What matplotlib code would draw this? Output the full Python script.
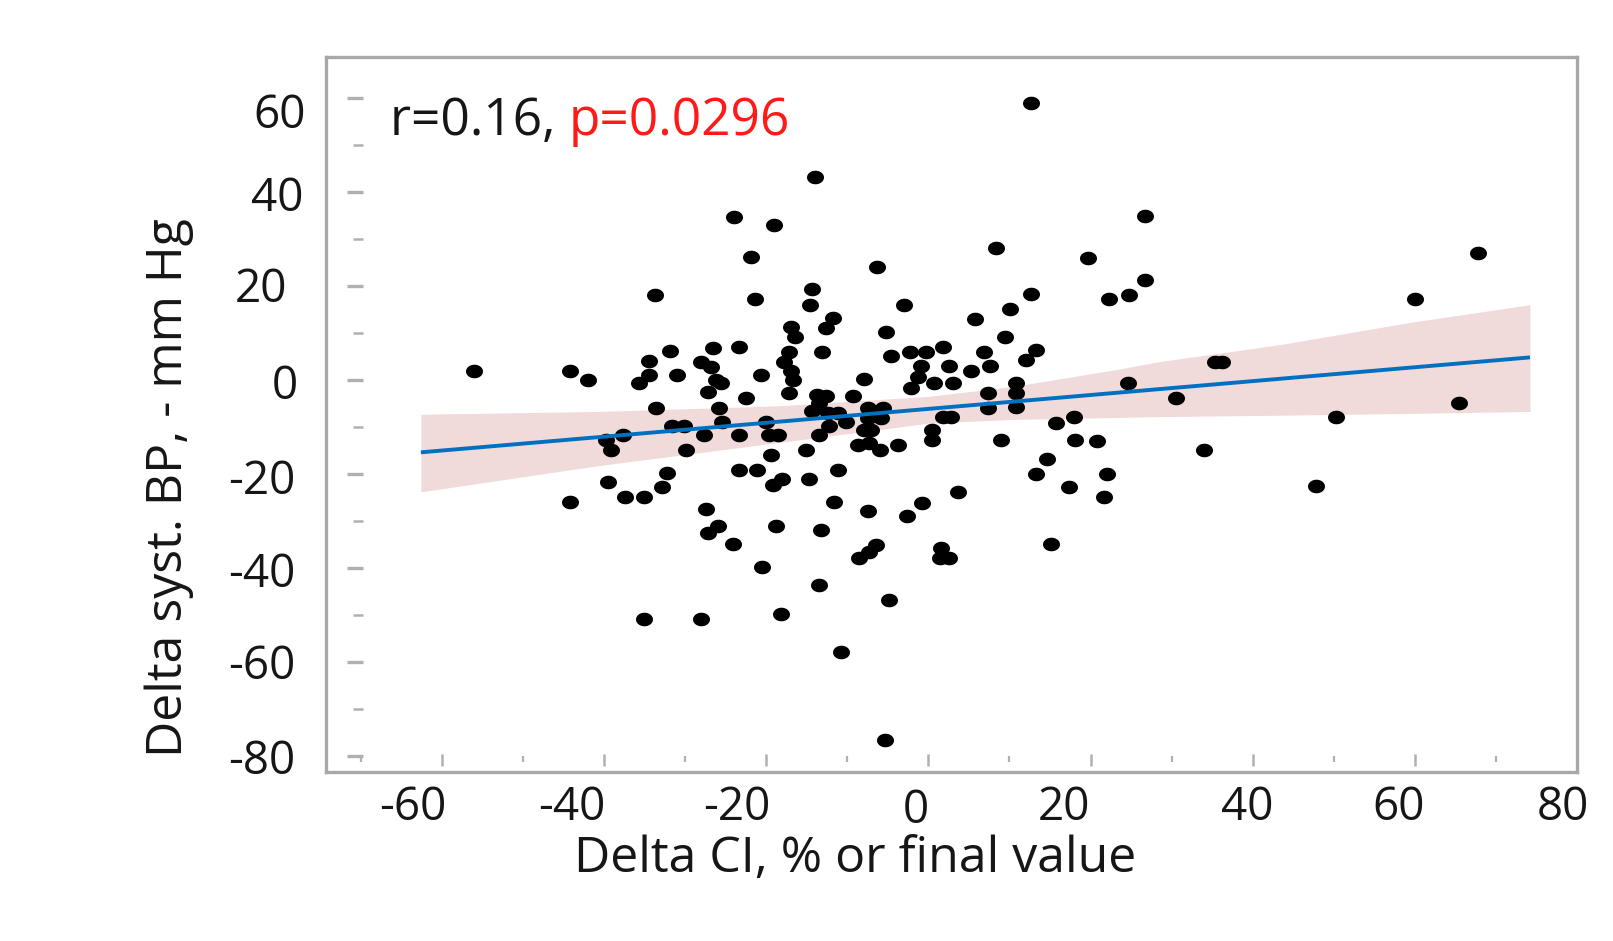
import numpy as np
import matplotlib
matplotlib.use("Agg")
import matplotlib.pyplot as plt
from matplotlib.path import Path
from matplotlib.transforms import offset_copy

plt.rcParams['font.family'] = ['Open Sans', 'DejaVu Sans']

# change in cardiac index vs change in systolic BP, one point per patient
delta_ci = [
    -24.0, -19.0, -21.9, -33.7, -21.4, -56.1, -44.2, -42.0, -34.5, -31.9,
    -26.6, -23.3, -34.5, -35.7, -31.0, -28.1, -26.8, -26.2, -25.6, -27.2,
    -22.5, -20.7, -33.6, -25.8, -25.4, -31.6, -30.1, -37.7, -39.8, -39.2,
    -29.9, -27.7, -23.3, -20.0, -19.6, -18.6, -19.4, -23.3, -21.1, -19.2,
    -32.2, -32.8, -39.5, -37.4, -35.1, -44.2, -27.4,
    -26.0, -27.2, -24.1, -18.8, -20.5, -35.1, -28.0, -18.2,
    12.7, -14.0, 8.4, 19.7, 26.7, 26.7, 24.8, 22.3, 12.7, 10.1,
    5.8, 9.4, 6.9, 7.6, 5.3, 12.1, 13.3, -6.3, -14.3, -14.6,
    -3.0, -11.8, -12.6, -16.9, -16.4, -5.2, -17.2, -17.8, -16.9, -16.7,
    -13.1, -4.6, -2.3, -0.3, 1.8, -0.9, -1.3, 0.7, 3.0, 2.6,
    -2.1, -7.9, -17.2, -13.7, -12.6, -9.3, 7.3, 10.8, 10.8, 24.6,
    -13.5, -14.3, -12.4, -11.2, -10.2, -12.2, -13.5, -7.5, -5.6, -7.5,
    -5.8, -7.9, -7.1, -8.7, -7.3, -6.0, -3.8, -15.1, -11.2, -14.7,
    -18.0, -11.6, -7.5, -13.2, -13.5, -6.5, -7.3, -8.5, -4.9, -10.8,
    -5.4, -2.6, -0.8, 3.6, 1.6, 2.6, 1.4, 2.8, 1.8, 0.5,
    0.5, 7.3, 10.8, 9.0, 15.8, 17.9, 18.1, 20.8, 14.6, 13.3,
    17.3, 22.0, 21.7, 15.1,
    67.8, 60.0, 35.4, 36.2, 30.5, 34.0, 50.3, 47.8, 65.4,
]
delta_sbp = [
    34.7, 33.0, 26.1, 18.1, 17.2, 1.8, 1.9, 0.0, 4.1, 6.2,
    6.9, 7.0, 1.1, -0.7, 1.1, 3.9, 2.8, 0.0, -0.7, -2.5,
    -3.9, 1.1, -6.0, -6.0, -8.9, -9.9, -9.9, -11.7, -12.8, -14.9,
    -14.9, -11.7, -11.8, -8.9, -11.8, -11.8, -16.0, -19.1, -19.1, -22.3,
    -19.9, -22.7, -21.8, -24.8, -24.8, -25.9, -27.5,
    -31.1, -32.6, -34.8, -31.1, -39.7, -50.9, -50.9, -49.8,
    59.0, 43.1, 28.0, 26.0, 34.9, 21.3, 18.1, 17.2, 18.2, 15.0,
    13.0, 9.2, 6.0, 3.0, 1.9, 4.3, 6.4, 24.0, 19.3, 16.0,
    16.0, 13.1, 11.0, 11.3, 9.1, 10.3, 6.0, 3.9, 1.8, 0.0,
    6.0, 5.1, 6.0, 6.0, 7.1, 3.0, 0.7, -0.7, -0.7, 3.0,
    -1.8, 0.1, -2.8, -3.2, -3.5, -3.5, -2.8, -0.7, -2.8, -0.7,
    -5.0, -6.7, -7.1, -7.1, -8.9, -9.9, -11.7, -6.0, -6.0, -8.1,
    -8.1, -10.6, -10.6, -13.8, -13.5, -14.9, -13.8, -14.9, -19.1, -21.1,
    -21.1, -25.9, -27.8, -31.9, -43.6, -35.1, -36.5, -37.9, -46.8, -57.8,
    -76.6, -28.9, -26.1, -23.8, -35.8, -37.9, -37.9, -7.8, -7.8, -10.6,
    -12.8, -6.0, -5.7, -12.8, -9.1, -7.9, -12.8, -12.9, -16.9, -20.0,
    -22.7, -20.1, -24.8, -34.8,
    27.0, 17.2, 3.9, 3.9, -3.9, -14.8, -7.9, -22.6, -5.0,
]

# linear fit and its confidence band
fit_x = [-62.6, 74.2]
fit_y = [-15.4, 4.8]
band_x = [-62.6, -40.6, -18.4, 0.0, 10.4, 22.8, 28.5, 43.3, 60.0, 74.2]
band_upper = [-7.3, -6.7, -5.5, -3.5, -1.4, 2.1, 3.9, 7.5, 12.4, 16.0]
band_lower = [-23.8, -18.2, -13.3, -9.2, -8.4, -8.0, -7.8, -7.5, -7.1, -6.7]

x_ticks = [-60, -40, -20, 0, 20, 40, 60, 80]
x_minor = [-70, -50, -30, -10, 10, 30, 50, 70]
y_ticks = [60, 40, 20, 0, -20, -40, -60, -80]
y_minor = [50, 30, 10, -10, -30, -50, -70]

r_text = "r=0.16, "
p_text = "p=0.0296"

fig = plt.figure(figsize=(16.13, 9.41), dpi=100)
ax = fig.add_axes([326 / 1613, 1 - 772 / 941, 1251 / 1613, 715 / 941])
ax.set_xlim(-74.3, 80.0)
ax.set_ylim(-83.4, 68.7)

ax.fill_between(band_x, band_lower, band_upper, color='#f0dada', lw=0, zorder=1)
ax.plot(fit_x, fit_y, color='#0070c0', lw=2.8, zorder=3, solid_capstyle='butt')

theta = np.linspace(0, 2 * np.pi, 40)
blob = Path(np.column_stack([np.cos(theta), 0.8 * np.sin(theta)]), closed=True)
ax.scatter(delta_ci, delta_sbp, s=150, marker=blob, color='black', lw=0, zorder=2)

for side in ax.spines.values():
    side.set_color('#a8a8a8')
    side.set_linewidth(2.4)
ax.set_xticks([])
ax.set_yticks([])

tick_grey = '#b0b0b0'
ytr = ax.get_yaxis_transform()
xtr = ax.get_xaxis_transform()
ax.hlines(y_ticks, 0.0168, 0.0296, transform=ytr, color=tick_grey, lw=2.4)
ax.hlines(y_minor, 0.0216, 0.0296, transform=ytr, color=tick_grey, lw=1.8)
ax.vlines(x_ticks[:-1], 0.0084, 0.0252, transform=xtr, color=tick_grey, lw=1.8)
ax.vlines(x_minor, 0.0144, 0.0228, transform=xtr, color=tick_grey, lw=1.6)

label_col = '#161616'
tick_fs = 33

# tick labels sit a little off their ticks, shifts are in pixels
x_shift = [(-29, 0), (-32, 0), (-29, 0), (-13, -3), (-27, 0), (-5, 0), (-16, 0), (-14, 0)]
for v, (dx, dy) in zip(x_ticks, x_shift):
    tr = offset_copy(xtr, fig=fig, x=dx, y=-48 + dy, units='dots')
    ax.text(v, 0, str(v), transform=tr, ha='center', va='baseline',
            fontsize=tick_fs, color=label_col, clip_on=False)

y_shift = [(-20, -30), (-22, -19), (-39, -16), (-28, -19), (-31, -20), (-31, -19), (-31, -17), (-31, -18)]
for v, (dx, dy) in zip(y_ticks, y_shift):
    tr = offset_copy(ytr, fig=fig, x=dx, y=dy, units='dots')
    ax.text(0, v, str(v), transform=tr, ha='right', va='baseline',
            fontsize=tick_fs, color=label_col, clip_on=False)

fig.text(855 / 1613, 1 - 872 / 941, "Delta CI, % or final value", ha='center',
         va='baseline', fontsize=36, color=label_col)
fig.text(182 / 1613, 1 - 487.5 / 941, "Delta syst. BP, - mm Hg", rotation=90,
         rotation_mode='anchor', ha='center', va='baseline', fontsize=36, color=label_col)

# correlation result, p value in red
r_artist = fig.text(390 / 1613, 1 - 135 / 941, r_text, ha='left', va='baseline',
                    fontsize=37, color=label_col)
fig.canvas.draw()
bb = r_artist.get_window_extent()
fig.text(bb.x1 / fig.bbox.width, 1 - 135 / 941, p_text, ha='left', va='baseline',
         fontsize=37, color='#ff1a1a')

fig.savefig('out.png', dpi=100)
